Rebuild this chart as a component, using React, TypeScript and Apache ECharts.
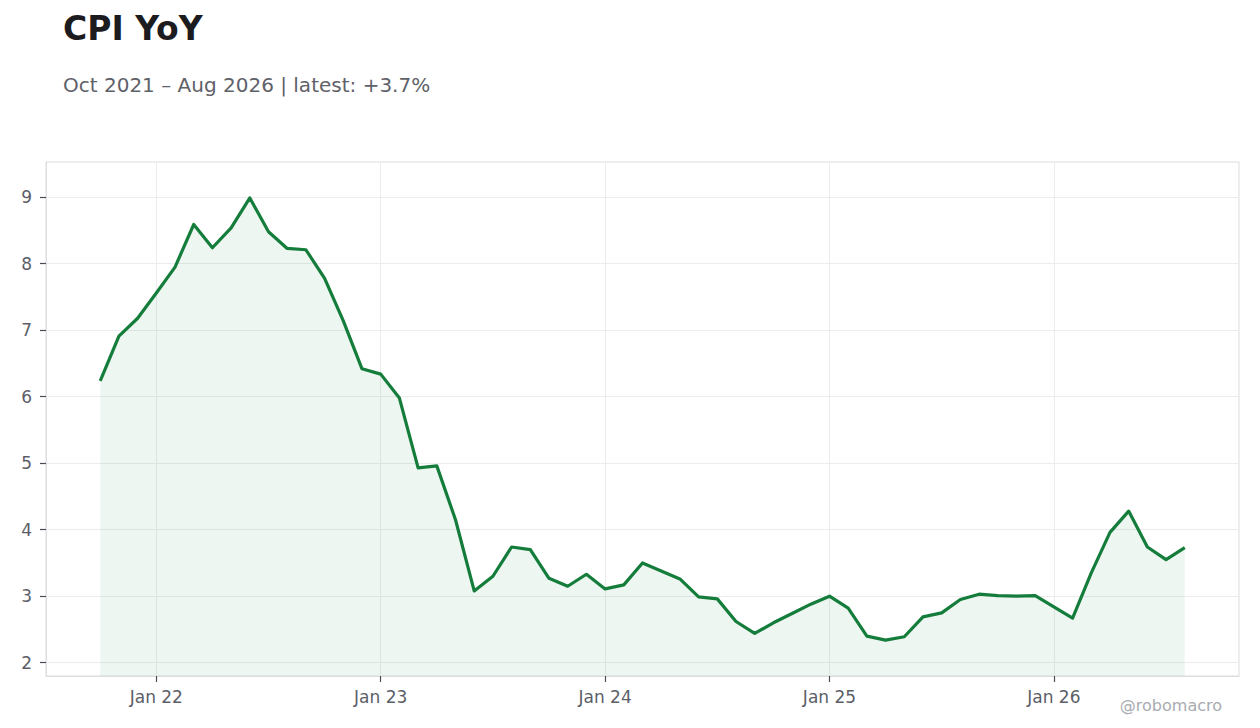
import { useEffect, useRef } from 'react';
import * as echarts from 'echarts';

// monthly CPI, year-over-year %, Oct 2021 .. Aug 2026
const months = [
  '2021-10', '2021-11', '2021-12',
  '2022-01', '2022-02', '2022-03', '2022-04', '2022-05', '2022-06',
  '2022-07', '2022-08', '2022-09', '2022-10', '2022-11', '2022-12',
  '2023-01', '2023-02', '2023-03', '2023-04', '2023-05', '2023-06',
  '2023-07', '2023-08', '2023-09', '2023-10', '2023-11', '2023-12',
  '2024-01', '2024-02', '2024-03', '2024-04', '2024-05', '2024-06',
  '2024-07', '2024-08', '2024-09', '2024-10', '2024-11', '2024-12',
  '2025-01', '2025-02', '2025-03', '2025-04', '2025-05', '2025-06',
  '2025-07', '2025-08', '2025-09', '2025-10', '2025-11', '2025-12',
  '2026-01', '2026-02', '2026-03', '2026-04', '2026-05', '2026-06',
  '2026-07', '2026-08',
];

const cpiYoY = [
  6.24, 6.91, 7.18,
  7.56, 7.95, 8.59, 8.24, 8.54, 8.99,
  8.48, 8.23, 8.21, 7.78, 7.14, 6.42,
  6.34, 5.98, 4.93, 4.96, 4.15, 3.08,
  3.30, 3.74, 3.70, 3.27, 3.15, 3.33,
  3.11, 3.17, 3.50, 3.38, 3.26, 2.99,
  2.96, 2.62, 2.44, 2.60, 2.74, 2.88,
  3.00, 2.82, 2.40, 2.34, 2.39, 2.69,
  2.75, 2.95, 3.03, 3.01, 3.00, 3.01,
  2.84, 2.67, 3.35, 3.96, 4.28, 3.74,
  3.55, 3.73,
];

const yearTicks = ['2022-01', '2023-01', '2024-01', '2025-01', '2026-01'];
const yTicks = [2, 3, 4, 5, 6, 7, 8, 9];

const MON = ['Jan', 'Feb', 'Mar', 'Apr', 'May', 'Jun', 'Jul', 'Aug', 'Sep', 'Oct', 'Nov', 'Dec'];

const fmtMonth = (m: string) => {
  const [y, mo] = m.split('-').map(Number);
  return `${MON[mo - 1]} ${y}`;
};

export default function App() {
  const chartRef = useRef<HTMLDivElement>(null);

  useEffect(() => {
    document.body.style.margin = '0';
    if (!chartRef.current) return;
    const chart = echarts.init(chartRef.current, undefined, { renderer: 'svg' });

    // x is the month's position in the series; 5% padding each side
    const n = months.length - 1;
    const pad = n * 0.05;
    const tickIdx = yearTicks.map((m) => months.indexOf(m));
    const latest = cpiYoY[cpiYoY.length - 1];

    const axisText = { color: '#5b5e68', fontSize: 17, fontFamily: 'DejaVu Sans' };
    const tickStyle = { color: '#4a4d56', width: 1.2 };

    const option: echarts.EChartsOption = {
      animation: false,
      backgroundColor: '#ffffff',
      title: [
        {
          text: 'CPI YoY',
          left: 63,
          top: 12,
          padding: 0,
          textStyle: { color: '#1b1b20', fontSize: 33, fontWeight: 'bold', fontFamily: 'DejaVu Sans' },
        },
        {
          text: `${fmtMonth(months[0])} – ${fmtMonth(months[n])} | latest: +${latest.toFixed(1)}%`,
          left: 63,
          top: 75,
          padding: 0,
          textStyle: { color: '#5f6169', fontSize: 20, fontWeight: 'normal', fontFamily: 'DejaVu Sans' },
        },
      ],
      graphic: [
        {
          type: 'text',
          right: 38,
          bottom: 15,
          style: { text: '@robomacro', fill: '#a9abb0', fontSize: 16, fontFamily: 'DejaVu Sans' },
        },
      ],
      grid: {
        left: 46,
        right: 21,
        top: 162,
        bottom: 52,
        show: true,
        borderColor: '#dddde0',
        borderWidth: 1,
      },
      xAxis: {
        type: 'value',
        min: -pad,
        max: n + pad,
        axisLine: { show: true, onZero: false, lineStyle: { color: '#dddde0', width: 1 } },
        axisTick: {
          show: true,
          length: 6,
          lineStyle: tickStyle,
          customValues: tickIdx,
        },
        axisLabel: {
          ...axisText,
          margin: 12,
          customValues: tickIdx,
          formatter: (v: number) => {
            const m = months[Math.round(v)];
            if (!m) return '';
            const [y, mo] = m.split('-');
            return `${MON[Number(mo) - 1]} ${y.slice(2)}`;
          },
        },
        splitLine: { show: true, lineStyle: { color: '#ececee', width: 1 } },
      },
      yAxis: {
        type: 'value',
        min: 1.8,
        max: 9.53,
        axisLine: { show: true, onZero: false, lineStyle: { color: '#dddde0', width: 1 } },
        axisTick: {
          show: true,
          length: 6,
          lineStyle: tickStyle,
          customValues: yTicks,
        },
        axisLabel: { ...axisText, margin: 14, customValues: yTicks },
        splitLine: { show: true, lineStyle: { color: '#ececee', width: 1 } },
      },
      series: [
        {
          name: 'CPI YoY',
          type: 'line',
          data: cpiYoY.map((v, i) => [i, v]),
          showSymbol: false,
          symbol: 'none',
          lineStyle: { color: '#157d3b', width: 3.2, join: 'round' },
          itemStyle: { color: '#157d3b' },
          areaStyle: { color: 'rgba(21, 125, 59, 0.1)', origin: 'start' },
        },
      ],
    };

    chart.setOption(option, true);

    const handleResize = () => chart.resize();
    window.addEventListener('resize', handleResize);
    return () => {
      window.removeEventListener('resize', handleResize);
      chart.dispose();
    };
  }, []);

  return <div ref={chartRef} style={{ width: 1260, height: 728 }} />;
}
